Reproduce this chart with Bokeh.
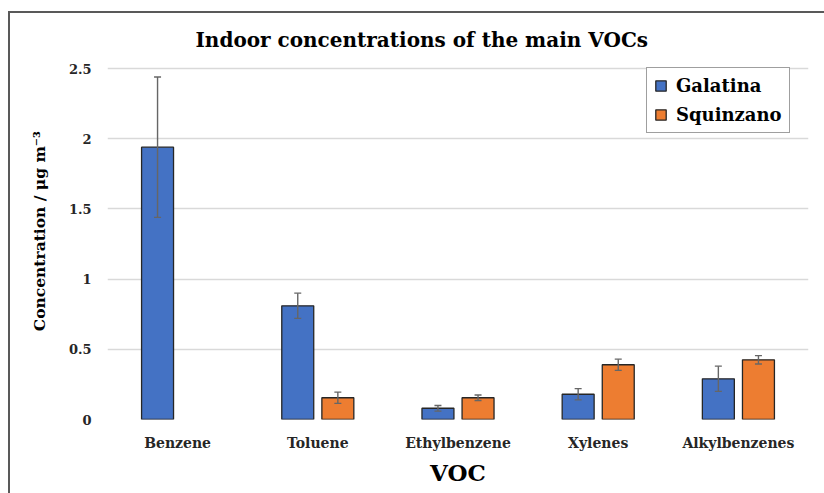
from bokeh.plotting import figure
from bokeh.models import ColumnDataSource, FactorRange, Whisker, Legend, LegendItem, Title
from bokeh.transform import dodge
from bokeh.embed import file_html
from bokeh.resources import INLINE

categories = ["Benzene", "Toluene", "Ethylbenzene", "Xylenes", "Alkylbenzenes"]
galatina = [1.94, 0.81, 0.08, 0.18, 0.29]
galatina_err = [0.50, 0.09, 0.02, 0.04, 0.09]
squinzano = [None, 0.155, 0.155, 0.39, 0.425]
squinzano_err = [None, 0.04, 0.02, 0.04, 0.03]
series_names = ["Galatina", "Squinzano"]
colors = ["#4472C4", "#ED7D31"]
yticks = [0, 0.5, 1, 1.5, 2, 2.5]
ytick_labels = ["0", "0.5", "1", "1.5", "2", "2.5"]

FONT = "DejaVu Serif"

# frame: 140 px per unit; 4 px of headroom above the 2.5 gridline so the legend is not clipped
FRAME_H = 355
y_top = 2.5 + 4 / 140

p = figure(
    x_range=FactorRange(factors=categories, range_padding=0),
    y_range=(0, y_top),
    frame_width=701, frame_height=FRAME_H,
    min_border_left=97, min_border_right=18, min_border_top=50, min_border_bottom=77,
    output_backend="svg", toolbar_location=None,
    background_fill_color="white", border_fill_color="white",
    styles={"border-top": "2px solid #595959", "border-left": "2px solid #595959",
            "margin-top": "11px", "margin-left": "8px"},
)
p.outline_line_color = None

t = Title(text="Indoor concentrations of the main VOCs", align="left",
          text_font=FONT, text_font_size="20px", text_font_style="bold",
          text_color="#000000", offset=88, standoff=25)
p.add_layout(t, "above")

def make_source(vals, errs):
    d = {"voc": [], "val": [], "lo": [], "hi": []}
    for c, v, e in zip(categories, vals, errs):
        if v is None:
            continue
        d["voc"].append(c)
        d["val"].append(v)
        d["lo"].append(v - e)
        d["hi"].append(v + e)
    return ColumnDataSource(d)

offsets = [-0.143, 0.143]
renderers = []
for vals, errs, col, off in zip([galatina, squinzano], [galatina_err, squinzano_err], colors, offsets):
    src = make_source(vals, errs)
    r = p.vbar(x=dodge("voc", off, range=p.x_range), top="val", bottom=0, width=0.228,
               source=src, fill_color=col, line_color="#262626", line_width=1.3)
    renderers.append(r)
    w = Whisker(base=dodge("voc", off, range=p.x_range), upper="hi", lower="lo", source=src,
                line_color="#666666", line_width=1.4, level="overlay")
    for h in (w.upper_head, w.lower_head):
        h.size = 7
        h.line_color = "#666666"
        h.line_width = 1.4
    p.add_layout(w)

# axes
p.yaxis.ticker = yticks
p.yaxis.major_label_overrides = {v: l for v, l in zip(yticks, ytick_labels)}
p.yaxis.axis_line_color = None
p.yaxis.major_tick_line_color = None
p.yaxis.minor_tick_line_color = None
p.yaxis.major_tick_out = 0
p.yaxis.major_tick_in = 0
p.yaxis.minor_tick_out = 0
p.yaxis.minor_tick_in = 0
p.yaxis.major_label_text_font = FONT
p.yaxis.major_label_text_font_style = "bold"
p.yaxis.major_label_text_font_size = "13px"
p.yaxis.major_label_text_color = "#262626"
p.yaxis.major_label_standoff = 16
p.yaxis.axis_label = "\u00a0\u00a0\u00a0\u00a0Concentration / μg m⁻³"
p.yaxis.axis_label_text_font = FONT
p.yaxis.axis_label_text_font_style = "bold"
p.yaxis.axis_label_text_font_size = "15.5px"
p.yaxis.axis_label_text_color = "#000000"
p.yaxis.axis_label_standoff = 17

p.xaxis.axis_line_color = None
p.xaxis.major_tick_line_color = None
p.xaxis.minor_tick_line_color = None
p.xaxis.major_tick_out = 0
p.xaxis.major_tick_in = 0
p.xaxis.major_label_text_font = FONT
p.xaxis.major_label_text_font_style = "bold"
p.xaxis.major_label_text_font_size = "14px"
p.xaxis.major_label_text_color = "#262626"
p.xaxis.major_label_standoff = 15
p.xaxis.axis_label = "VOC"
p.xaxis.axis_label_text_font = FONT
p.xaxis.axis_label_text_font_style = "bold"
p.xaxis.axis_label_text_font_size = "23px"
p.xaxis.axis_label_text_color = "#000000"
p.xaxis.axis_label_standoff = 5

p.xgrid.grid_line_color = None
p.ygrid.grid_line_color = "#d9d9d9"
p.ygrid.grid_line_width = 1.5

legend = Legend(
    items=[LegendItem(label=n, renderers=[r]) for n, r in zip(series_names, renderers)],
    location=(539, 286),
    label_text_font=FONT, label_text_font_style="bold", label_text_font_size="18px",
    label_text_color="#000000",
    glyph_width=13, glyph_height=13, label_height=20, label_standoff=9,
    padding=7, spacing=8, margin=0,
    border_line_color="#404040", border_line_width=1.2,
    background_fill_color="white", background_fill_alpha=1,
)
p.add_layout(legend)

open("out.html", "w").write(file_html(p, INLINE))
